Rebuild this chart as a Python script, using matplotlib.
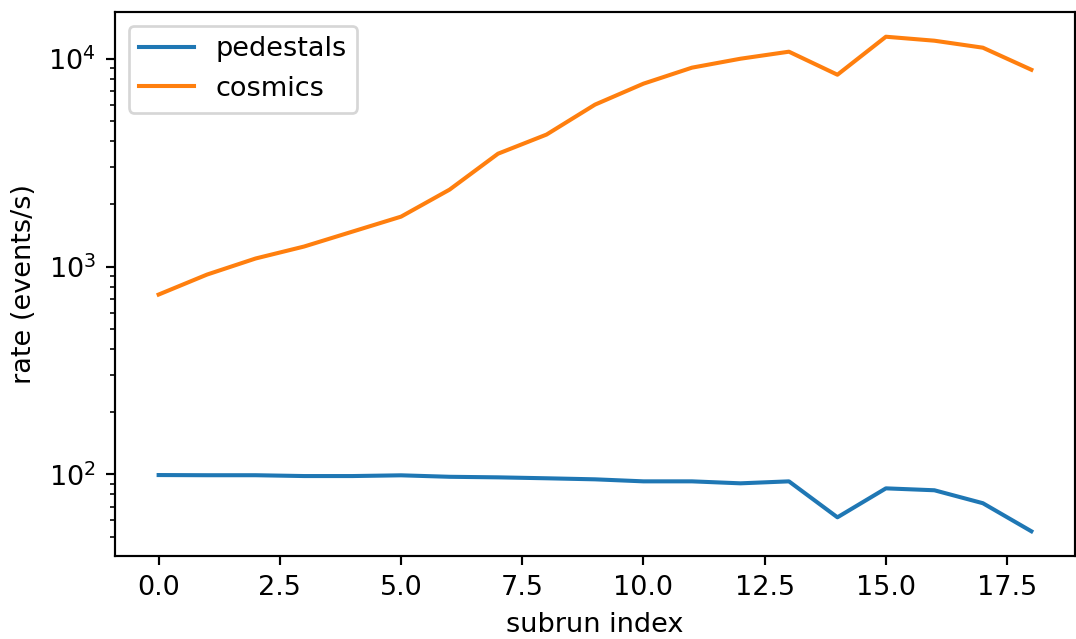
import matplotlib
matplotlib.use("Agg")
import matplotlib.pyplot as plt

subrun = list(range(19))
pedestals = [99.2, 99.0, 99.0, 98.1, 98.1, 98.9, 97.3, 96.7, 95.7, 94.6,
             92.5, 92.5, 90.5, 92.5, 62.1, 85.6, 83.8, 72.6, 53.2]
cosmics = [733, 915, 1093, 1248, 1473, 1738, 2344, 3491, 4315, 6013,
           7586, 9057, 10000, 10810, 8375, 12760, 12210, 11300, 8850]

DPI = 195
fig = plt.figure(figsize=(1076 / DPI, 639 / DPI), dpi=DPI)
ax = fig.add_axes([115 / 1076, 1 - 556 / 639, 960 / 1076, 544 / 639])

ax.plot(subrun, pedestals, label="pedestals")
ax.plot(subrun, cosmics, label="cosmics")
ax.set_yscale("log")
ax.set_xlabel("subrun index")
ax.set_ylabel("rate (events/s)")
ax.legend(loc="upper left")

fig.savefig("out.png", dpi=DPI)
